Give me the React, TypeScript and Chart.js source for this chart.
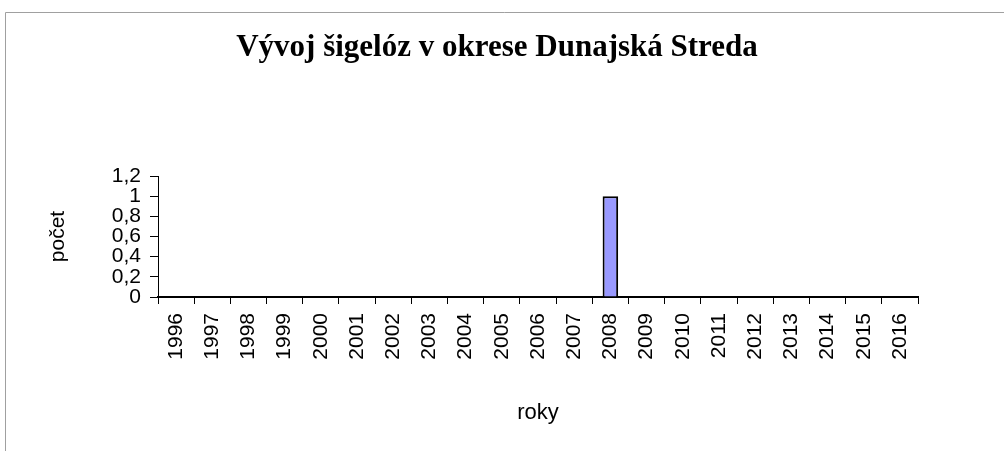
import React, { useEffect, useRef } from "react";
import { Chart, registerables } from "chart.js";

Chart.register(...registerables);

const chartTitle = "Vývoj šigelóz v okrese Dunajská Streda";
const years = ["1996", "1997", "1998", "1999", "2000", "2001", "2002", "2003", "2004", "2005", "2006", "2007", "2008", "2009", "2010", "2011", "2012", "2013", "2014", "2015", "2016"];
const counts = [0, 0, 0, 0, 0, 0, 0, 0, 0, 0, 0, 0, 1, 0, 0, 0, 0, 0, 0, 0, 0];
const yMin = 0;
const yMax = 1.2;
const yStep = 0.2;
const yAxisTitle = "počet";
const xAxisTitle = "roky";

const framePlugin = {
  id: "frame",
  beforeDraw(chart: any) {
    const ctx = chart.ctx;
    ctx.save();
    ctx.fillStyle = "#ffffff";
    ctx.fillRect(0, 0, chart.width, chart.height);
    ctx.strokeStyle = "#a0a0a0";
    ctx.lineWidth = 1;
    ctx.beginPath();
    ctx.moveTo(1004, 12.5);
    ctx.lineTo(5.5, 12.5);
    ctx.lineTo(5.5, 451);
    ctx.stroke();
    ctx.restore();
  },
  afterDraw(chart: any) {
    const ctx = chart.ctx;
    ctx.save();
    ctx.fillStyle = "#000000";
    ctx.font = "bold 31px 'Liberation Serif', 'Times New Roman', serif";
    ctx.textAlign = "center";
    ctx.textBaseline = "middle";
    ctx.fillText(chartTitle, 497, 48);
    ctx.restore();
  },
};

export default function App() {
  const ref = useRef<HTMLCanvasElement>(null);
  useEffect(() => {
    if (!ref.current) return;
    const chart = new Chart(ref.current, {
      type: "bar",
      data: {
        labels: years,
        datasets: [
          {
            data: counts,
            backgroundColor: "#9999ff",
            borderColor: "#000000",
            borderWidth: 2,
            categoryPercentage: 1,
            barPercentage: 0.43,
          },
        ],
      },
      options: {
        animation: false,
        responsive: false,
        devicePixelRatio: 1,
        layout: { padding: { top: 176, right: 86, left: 0, bottom: 0 } },
        plugins: {
          legend: { display: false },
          title: { display: false },
          tooltip: { enabled: false },
        },
        scales: {
          x: {
            offset: true,
            grid: {
              offset: true,
              display: true,
              drawOnChartArea: false,
              drawTicks: true,
              tickLength: 7,
              color: "#000000",
              lineWidth: 1,
            },
            border: { display: true, color: "#000000", width: 2 },
            ticks: {
              color: "#000000",
              font: { family: "'Liberation Sans', Arial, sans-serif", size: 21 },
              minRotation: 90,
              maxRotation: 90,
              padding: 9,
              autoSkip: false,
            },
            title: {
              display: true,
              text: xAxisTitle,
              color: "#000000",
              font: { family: "'Liberation Sans', Arial, sans-serif", size: 22 },
              padding: { top: 0, bottom: 25 },
            },
            afterFit(scale: any) {
              scale.height = 154;
            },
          },
          y: {
            min: yMin,
            max: yMax,
            grid: {
              display: true,
              drawOnChartArea: false,
              drawTicks: true,
              tickLength: 8,
              color: "#000000",
              lineWidth: 1,
            },
            border: { display: true, color: "#000000", width: 1 },
            ticks: {
              stepSize: yStep,
              autoSkip: false,
              color: "#000000",
              font: { family: "'Liberation Sans', Arial, sans-serif", size: 21, lineHeight: 1 },
              padding: 9,
              callback: (v: any) => String(Math.round(Number(v) * 10) / 10).replace(".", ","),
            },
            title: {
              display: true,
              text: yAxisTitle,
              color: "#000000",
              font: { family: "'Liberation Sans', Arial, sans-serif", size: 21 },
              padding: { top: 46, bottom: 0 },
            },
            afterFit(scale: any) {
              scale.width = 158;
            },
          },
        },
      },
      plugins: [framePlugin],
    });
    return () => chart.destroy();
  }, []);
  return (
    <div style={{ position: "absolute", left: 0, top: 0, width: 1004, height: 451 }}>
      <canvas ref={ref} width={1004} height={451} style={{ width: 1004, height: 451, display: "block" }} />
    </div>
  );
}
